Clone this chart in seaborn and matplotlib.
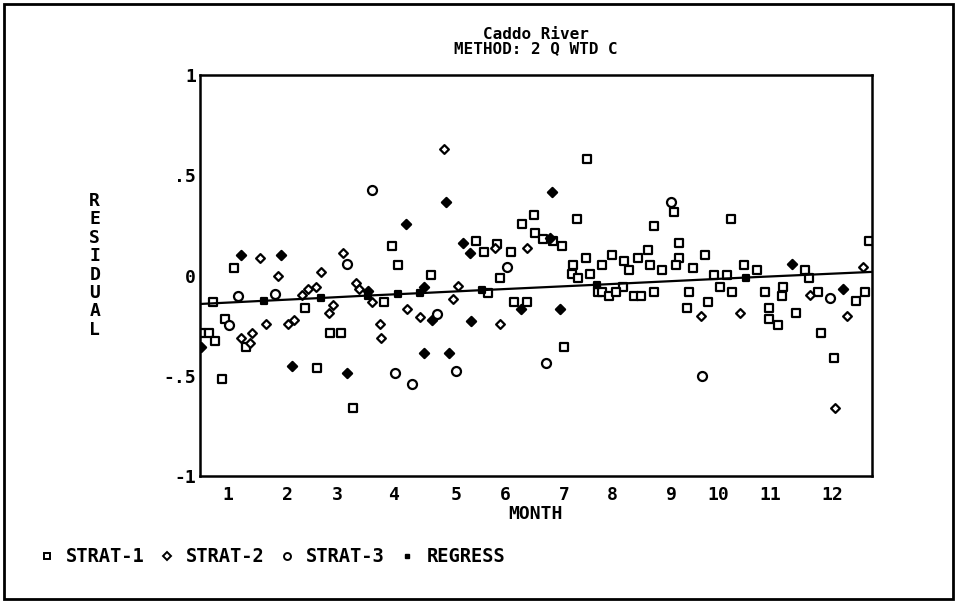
import numpy as np
import pandas as pd
import matplotlib
matplotlib.use("Agg")
import matplotlib.pyplot as plt
import seaborn as sns
from matplotlib.lines import Line2D
from matplotlib.patches import Rectangle

# STRAT-1 (squares): month position, residual
strat1_x = [0.61, 0.24, 0.45, 0.02, 0.16, 0.27, 0.82, 0.40, 1.88, 2.33, 2.51, 2.09, 2.74,
            3.43, 3.54, 4.13, 3.29,
            6.91, 5.97, 5.76, 6.74, 5.99, 6.13, 6.30, 6.46, 4.93, 5.07, 5.31, 5.55, 5.36,
            5.14, 5.60, 5.84, 6.51, 6.66, 6.89, 7.18, 6.64, 6.76, 6.96, 7.11, 7.18,
            8.46, 8.11, 9.48, 8.56, 8.01, 7.36, 9.02, 7.58, 7.82, 8.56, 8.04, 8.50, 7.66,
            8.26, 8.81, 9.18, 9.42, 7.55, 9.29, 7.31, 7.43, 7.76, 7.88, 8.11, 8.73, 9.51,
            9.07, 8.70,
            9.72, 9.95, 10.80, 10.88, 11.95, 10.42, 10.09, 10.40, 11.04, 11.87, 11.71,
            10.17, 10.17, 10.33, 10.64, 11.09, 11.33]
strat1_y = [0.036, -0.13, -0.215, -0.286, -0.286, -0.326, -0.359, -0.517, -0.16, -0.288, -0.288, -0.462, -0.663,
            0.147, 0.052, 0.002, -0.13,
            0.583, 0.301, 0.255, 0.28, 0.213, 0.18, 0.172, 0.147, 0.172, 0.118, 0.158, 0.118, -0.014,
            -0.087, -0.13, -0.13, -0.359, 0.052, 0.086, 0.052, 0.006, -0.014, 0.006, -0.084, -0.084,
            0.317, 0.248, 0.281, 0.16, 0.128, 0.104, 0.104, 0.072, 0.086, 0.086, 0.052, 0.052, 0.026,
            0.026, 0.036, 0.002, 0.002, -0.056, -0.056, -0.104, -0.084, -0.104, -0.104, -0.084, -0.084, -0.084,
            -0.13, -0.16,
            0.052, 0.026, 0.026, -0.011, 0.172, -0.056, -0.084, -0.102, -0.084, -0.084, -0.128,
            -0.16, -0.216, -0.248, -0.187, -0.288, -0.409]

# STRAT-2 (diamonds), open ones
strat2_x = [1.08, 1.40, 2.17, 1.82, 1.93, 2.07, 2.38, 2.30, 1.18, 1.58, 1.68, 0.93, 0.73, 0.89,
            2.55, 2.79, 2.84, 3.08, 3.69, 3.93, 3.21, 3.24, 4.35, 4.61, 4.51, 5.27, 5.84, 5.36,
            8.94, 9.64, 10.90, 11.55, 11.35, 11.84]
strat2_y = [0.089, -0.002, 0.016, -0.097, -0.069, -0.057, -0.147, -0.187, -0.241, -0.241, -0.223, -0.288, -0.312, -0.339,
            0.11, -0.037, -0.067, -0.13, -0.167, -0.205, -0.241, -0.314, 0.633, -0.054, -0.117, 0.135, 0.137, -0.243,
            -0.203, -0.187, -0.097, -0.202, -0.663, 0.044]
# STRAT-2 points that print as solid diamonds
strat2_solid_x = [0.73, 1.45, 0.02, 1.64, 4.39, 3.68, 4.69, 4.82, 4.00, 4.15, 4.00, 4.45, 2.63,
                  4.84, 6.29, 6.25, 5.73, 6.43, 10.58, 11.49, 3.00]
strat2_solid_y = [0.102, 0.102, -0.359, -0.449, 0.367, 0.255, 0.16, 0.11, -0.057, -0.223, -0.384, -0.384, -0.487,
                  -0.225, 0.415, 0.185, -0.167, -0.167, 0.056, -0.067, -0.077]

# STRAT-3 (circles)
strat3_x = [0.51, 0.67, 1.34, 2.63, 3.08, 3.49, 3.78, 4.24, 4.58, 5.49, 6.18, 8.41, 8.96, 11.25]
strat3_y = [-0.248, -0.104, -0.09, 0.059, 0.427, -0.487, -0.541, -0.193, -0.475, 0.042, -0.435, 0.367, -0.5, -0.11]

# REGRESS line with its dots
regress_x = [0.0, 1.15, 2.17, 3.00, 3.54, 3.93, 5.03, 7.09, 9.76, 12.0]
regress_y = [-0.142, -0.126, -0.112, -0.100, -0.093, -0.088, -0.073, -0.046, -0.010, 0.018]

month_labels = ["1", "2", "3", "4", "5", "6", "7", "8", "9", "10", "11", "12"]
month_label_pos = [0.5, 1.57, 2.45, 3.46, 4.57, 5.45, 6.5, 7.36, 8.42, 9.25, 10.18, 11.3]
y_ticks = [-1, -0.5, 0, 0.5, 1]
y_ticklabels = ["-1", "-.5", "0", ".5", "1"]

sns.set_style("white")
plt.rcParams["font.family"] = ["DejaVu Sans Mono"]
plt.rcParams["font.weight"] = "bold"
plt.rcParams["text.color"] = "black"
plt.rcParams["axes.labelcolor"] = "black"
plt.rcParams["xtick.color"] = "black"
plt.rcParams["ytick.color"] = "black"

fig = plt.figure(figsize=(9.57, 6.03), dpi=100)
ax = fig.add_axes([0.209, 0.2106, 0.702, 0.665])

mk = dict(edgecolor="black", linewidth=1.6, legend=False, ax=ax)
sns.scatterplot(x=strat1_x, y=strat1_y, marker="s", s=38, facecolor="white", **mk)
sns.scatterplot(x=strat2_x, y=strat2_y, marker="D", s=20, facecolor="white", **mk)
sns.scatterplot(x=strat2_solid_x, y=strat2_solid_y, marker="D", s=22, color="black", **mk)
sns.scatterplot(x=strat3_x, y=strat3_y, marker="o", s=42, facecolor="white", **mk)
sns.lineplot(x=regress_x, y=regress_y, color="black", linewidth=1.6, ax=ax, legend=False)
sns.scatterplot(x=regress_x[1:-1], y=regress_y[1:-1], marker="s", s=22, color="black", **mk)

ax.set_xlim(0, 12)
ax.set_ylim(-1, 1)
ax.set_yticks(y_ticks)
ax.set_yticklabels(y_ticklabels, fontsize=13, fontweight="bold")
ax.set_xticks(range(1, 12))
ax.set_xticklabels([])
ax.set_xticks(month_label_pos, minor=True)
ax.set_xticklabels(month_labels, minor=True, fontsize=13, fontweight="bold")
ax.tick_params(axis="x", which="major", direction="out", length=5, width=1.8, color="black")
ax.tick_params(axis="x", which="minor", length=0, pad=7)
ax.tick_params(axis="y", direction="in", length=9, width=1.8, pad=3, color="black")
for sp in ax.spines.values():
    sp.set_color("black")
    sp.set_linewidth(1.8)

ax.set_xlabel("MONTH", fontsize=13, fontweight="bold", labelpad=1)
fig.text(0.099, 0.56, "R\nE\nS\nI\nD\nU\nA\nL", ha="center", va="center",
         fontsize=13, fontweight="bold", linespacing=1.03)

fig.text(0.56, 0.943, "Caddo River", ha="center", va="center", fontsize=11.5, fontweight="bold")
fig.text(0.56, 0.920, "METHOD: 2 Q WTD C", ha="center", va="center", fontsize=11.5, fontweight="bold")

handles = [
    Line2D([], [], marker="s", ls="none", mfc="white", mec="black", ms=5, mew=1.4, label="STRAT-1"),
    Line2D([], [], marker="D", ls="none", mfc="white", mec="black", ms=4, mew=1.4, label="STRAT-2"),
    Line2D([], [], marker="o", ls="none", mfc="white", mec="black", ms=5, mew=1.4, label="STRAT-3"),
    Line2D([], [], marker="s", ls="none", mfc="black", mec="black", ms=3, label="REGRESS"),
]
fig.legend(handles=handles, loc="center left", bbox_to_anchor=(0.0434, 0.0763), ncol=4,
           frameon=False, handlelength=0.6, handletextpad=0.72, columnspacing=0.88,
           borderpad=0, borderaxespad=0, prop={"weight": "bold", "size": 13.5})

fig.patches.append(Rectangle((0.004, 0.006), 0.992, 0.988, transform=fig.transFigure,
                             fill=False, edgecolor="black", linewidth=2))

fig.savefig("out.png", dpi=100, facecolor="white")
